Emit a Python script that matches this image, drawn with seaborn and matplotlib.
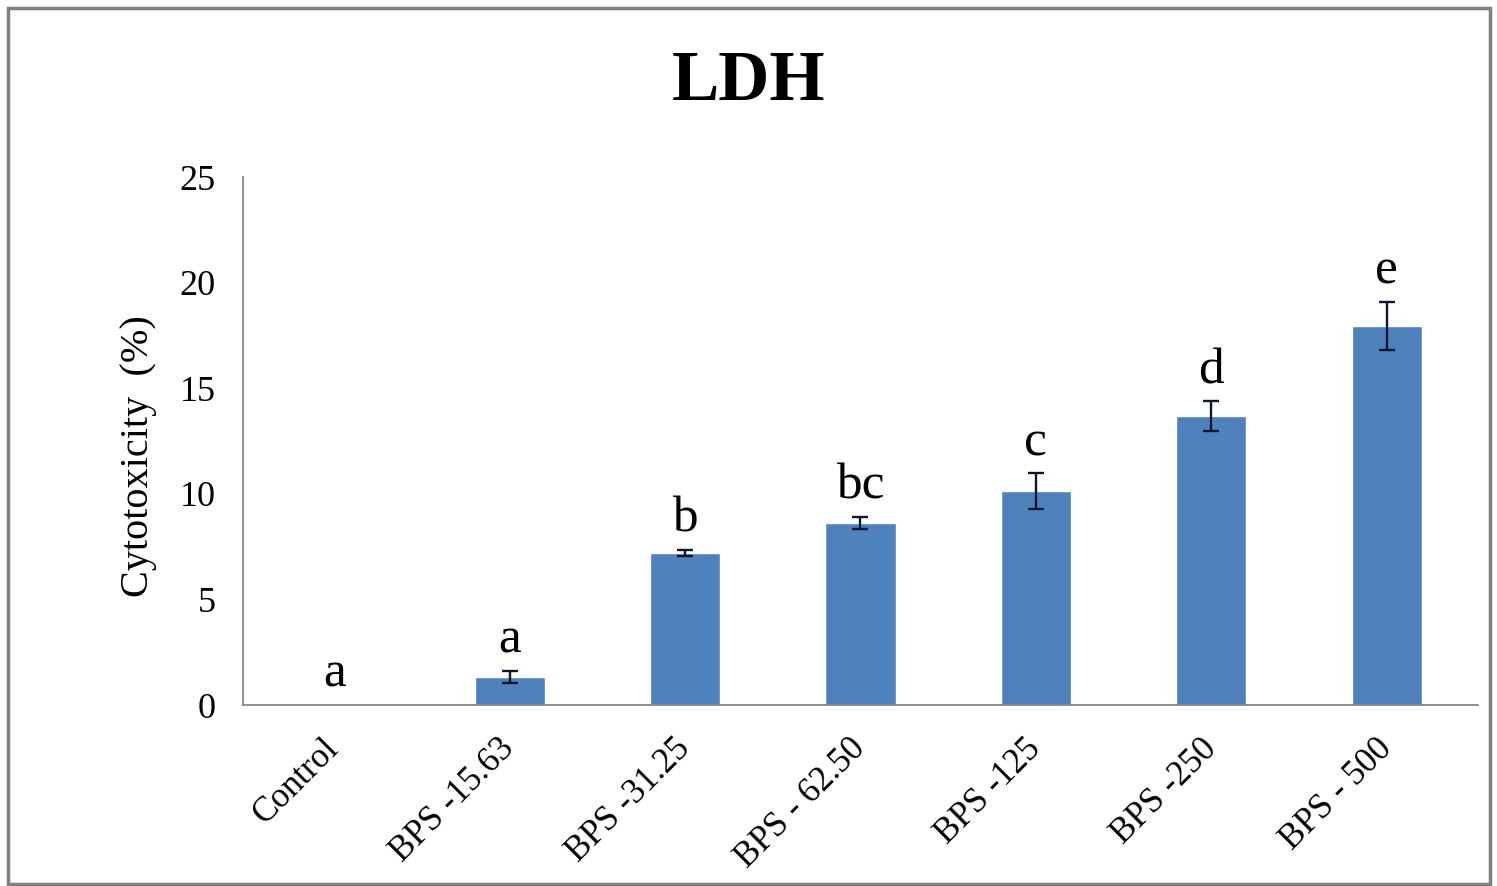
import matplotlib
matplotlib.use("Agg")
import matplotlib.pyplot as plt
import matplotlib.patches as mpatches
import seaborn as sns
import numpy as np

# LDH cytotoxicity by BPS concentration
groups = ["Control", "BPS -15.63", "BPS -31.25", "BPS - 62.50",
          "BPS -125", "BPS -250", "BPS - 500"]
cytotoxicity = [0.0, 1.33, 7.2, 8.62, 10.13, 13.68, 17.95]
std_err = [0.0, 0.3, 0.15, 0.3, 0.85, 0.7, 1.15]
letters = ["a", "a", "b", "bc", "c", "d", "e"]
y_ticks = [0, 5, 10, 15, 20, 25]

sns.set_style("white")
plt.rcParams["font.family"] = ["Liberation Serif", "DejaVu Serif"]
plt.rcParams["text.color"] = "black"
plt.rcParams["axes.labelcolor"] = "black"
plt.rcParams["xtick.labelcolor"] = "black"
plt.rcParams["ytick.labelcolor"] = "black"

W, H = 1497, 886
fig = plt.figure(figsize=(W / 100, H / 100), dpi=100)
ax = fig.add_axes([243 / W, 1 - 705 / H, (1478 - 243) / W, (705 - 177) / H])

bar_color = "#4F81BD"
axis_gray = "#868686"

sns.barplot(x=groups, y=cytotoxicity, color=bar_color, saturation=1,
            width=0.4, ax=ax, errorbar=None)

xpos = np.asarray(ax.get_xticks(), dtype=float)
vals = np.array(cytotoxicity)
errs = np.array(std_err)
mask = errs > 0
ax.errorbar(xpos[mask], vals[mask], yerr=errs[mask], fmt="none",
            ecolor="#0d1530", elinewidth=1.7, capsize=5.5, capthick=1.7)

# significance letters above each bar
for x, v, e, lab in zip(xpos, vals, errs, letters):
    ax.annotate(lab, xy=(x, v + e), xytext=(0, 13), textcoords="offset points",
                ha="center", va="baseline", fontsize=37, color="black")

ax.set_ylim(0, 25)
ax.set_yticks(y_ticks)
ax.set_yticklabels([str(t) for t in y_ticks], fontsize=26)
ax.set_xticks(xpos)
ax.set_xticklabels(groups, fontsize=25, rotation=45, ha="right",
                   va="center", rotation_mode="anchor")
ax.tick_params(axis="x", length=0, pad=28)
ax.tick_params(axis="y", length=7.5, width=1.2, color=axis_gray, direction="out", pad=12)

for side in ("top", "right"):
    ax.spines[side].set_visible(False)
for side in ("left", "bottom"):
    ax.spines[side].set_color(axis_gray)
    ax.spines[side].set_linewidth(1.3)

ax.set_ylabel("Cytotoxicity  (%)", fontsize=29)
ax.yaxis.set_label_coords(-(243 - 157) / (1478 - 243), (705 - 456) / (705 - 177))
ax.set_xlabel("")

fig.text(0.5, 1 - 100 / H, "LDH", ha="center", va="baseline",
         fontsize=51, fontweight="bold", color="black")

# outer frame
frame = mpatches.Rectangle((8 / W, 1 - 884 / H), (1490 - 8) / W, (884 - 8) / H,
                           transform=fig.transFigure, fill=False,
                           edgecolor="#808080", linewidth=2.5)
fig.patches.append(frame)

fig.savefig("out.png", dpi=100, facecolor="white")
